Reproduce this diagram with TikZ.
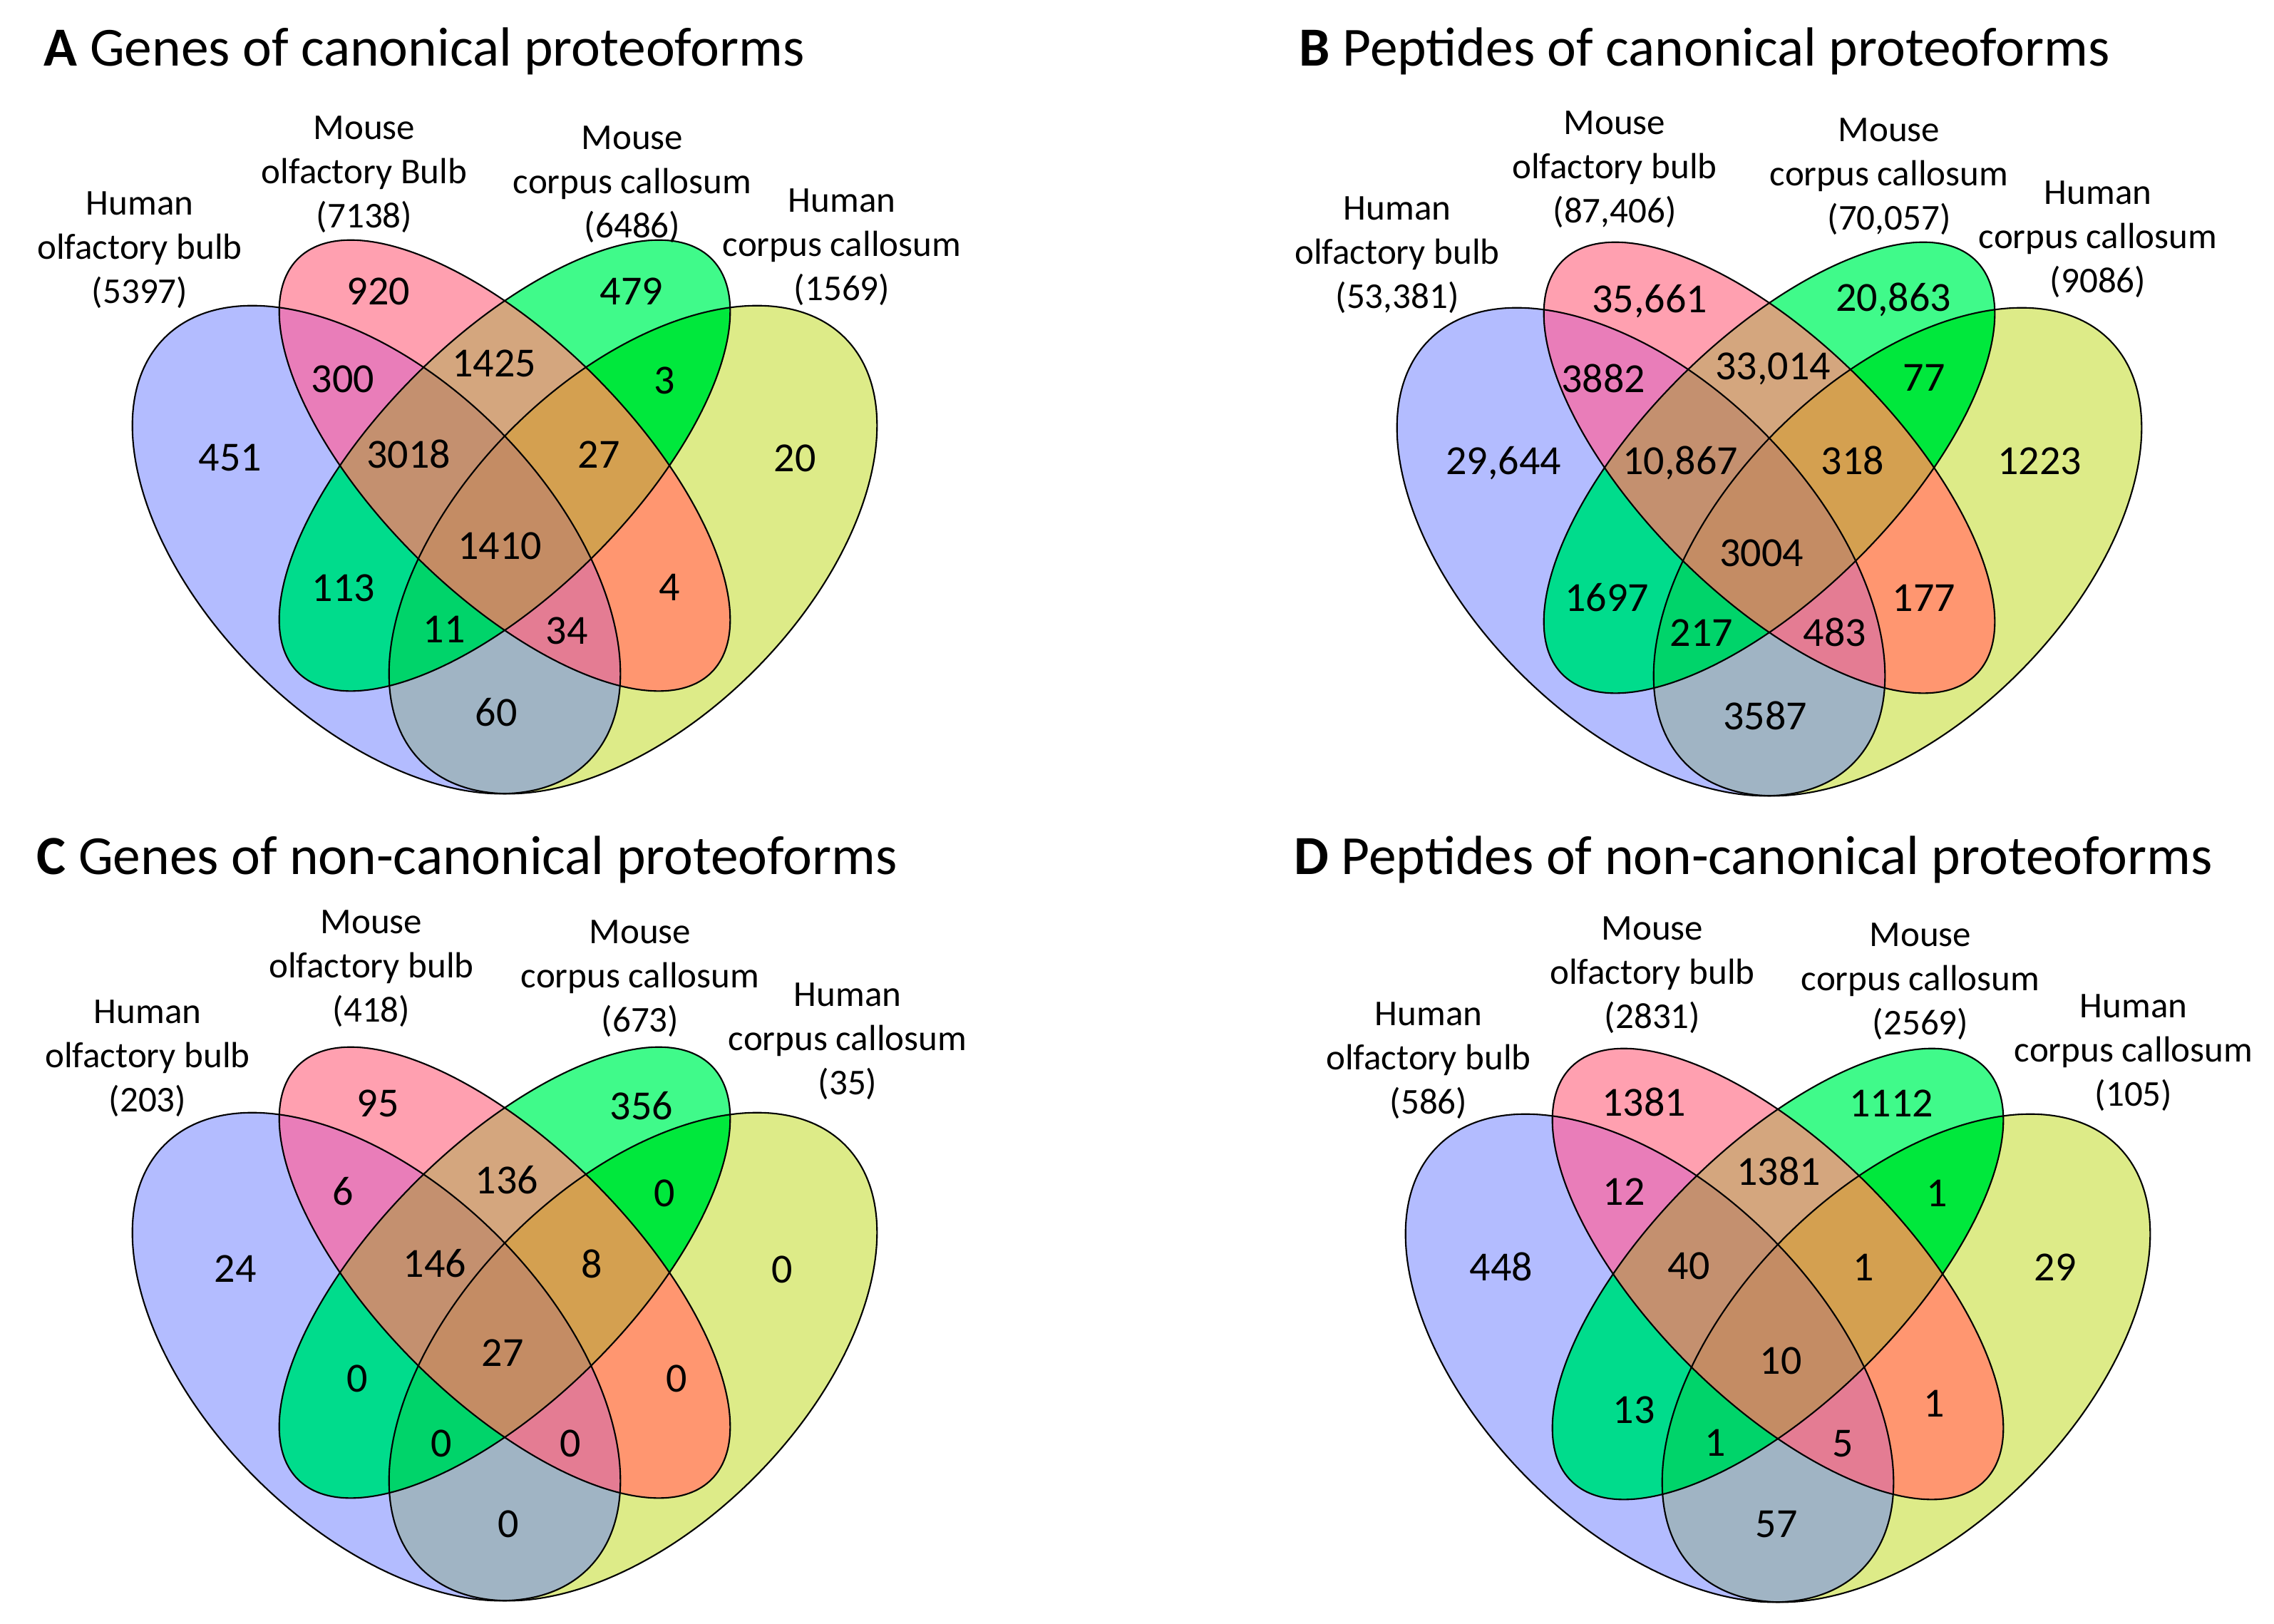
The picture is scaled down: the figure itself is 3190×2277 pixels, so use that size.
\documentclass[tikz,border=0pt]{standalone}
\usepackage{fontspec}
\setmainfont{Carlito}
\definecolor{cB}{RGB}{179,188,255}
\definecolor{cP}{RGB}{255,160,176}
\definecolor{cG}{RGB}{64,250,138}
\definecolor{cY}{RGB}{221,235,136}
\definecolor{cBP}{RGB}{233,125,185}
\definecolor{cBG}{RGB}{0,220,140}
\definecolor{cBY}{RGB}{160,180,196}
\definecolor{cPG}{RGB}{212,166,126}
\definecolor{cPY}{RGB}{255,150,112}
\definecolor{cGY}{RGB}{0,232,60}
\definecolor{cBPG}{RGB}{196,144,111}
\definecolor{cBPY}{RGB}{228,124,147}
\definecolor{cBGY}{RGB}{0,212,106}
\definecolor{cPGY}{RGB}{212,160,80}
\definecolor{cAll}{RGB}{196,140,100}
\newcommand\shapeB{(528,771) ellipse [x radius=4.2cm, y radius=2.4cm]}
\newcommand\shapeP{(708,653) ellipse [x radius=4.1cm, y radius=1.78cm]}
\newcommand\shapeG{(708,653) ellipse [x radius=4.1cm, y radius=1.78cm]}
\newcommand\shapeY{(888,771) ellipse [x radius=4.2cm, y radius=2.4cm]}
\newcommand\vennpanel{%
  \fill[rB,fill=cB] \shapeB;
  \fill[rP,fill=cP] \shapeP;
  \fill[rG,fill=cG] \shapeG;
  \fill[rY,fill=cY] \shapeY;
  \begin{scope}\clip[rB] \shapeB;
    \fill[rP,fill=cBP] \shapeP;
    \fill[rG,fill=cBG] \shapeG;
    \fill[rY,fill=cBY] \shapeY;
  \end{scope}
  \begin{scope}\clip[rP] \shapeP;
    \fill[rG,fill=cPG] \shapeG;
    \fill[rY,fill=cPY] \shapeY;
  \end{scope}
  \begin{scope}\clip[rG] \shapeG;
    \fill[rY,fill=cGY] \shapeY;
  \end{scope}
  \begin{scope}\clip[rB] \shapeB; \clip[rP] \shapeP;
    \fill[rG,fill=cBPG] \shapeG;
    \fill[rY,fill=cBPY] \shapeY;
  \end{scope}
  \begin{scope}\clip[rB] \shapeB; \clip[rG] \shapeG;
    \fill[rY,fill=cBGY] \shapeY;
  \end{scope}
  \begin{scope}\clip[rP] \shapeP; \clip[rG] \shapeG;
    \fill[rY,fill=cPGY] \shapeY;
  \end{scope}
  \begin{scope}\clip[rB] \shapeB; \clip[rP] \shapeP; \clip[rG] \shapeG;
    \fill[rY,fill=cAll] \shapeY;
  \end{scope}
  \draw[rB,outline] \shapeB;
  \draw[rP,outline] \shapeP;
  \draw[rG,outline] \shapeG;
  \draw[rY,outline] \shapeY;
}
\begin{document}
\begin{tikzpicture}[x=0.01cm,y=-0.01cm,
  rB/.style={rotate around={-45:(528,771)}},
  rP/.style={rotate around={-45:(708,653)}},
  rG/.style={rotate around={45:(708,653)}},
  rY/.style={rotate around={45:(888,771)}},
  outline/.style={draw=black,line width=0.6pt},
  lab/.style={align=center,inner sep=0pt,font=\fontsize{14.5}{17.6}\selectfont},
  num/.style={inner sep=0pt,text height=10.4pt,text depth=0pt,font=\fontsize{16.5}{19}\selectfont},
  ttl/.style={anchor=base west,inner sep=0pt,font=\fontsize{22}{26}\selectfont}]
\fill[white] (0,0) rectangle (3190,2277);
\useasboundingbox (0,0) rectangle (3190,2277);
% ---------- panel shapes
\begin{scope}\vennpanel\end{scope}
\begin{scope}[shift={(1774,3)}]\vennpanel\end{scope}
\begin{scope}[shift={(0,1132)}]\vennpanel\end{scope}
\begin{scope}[shift={(1786,1134)}]\vennpanel\end{scope}
% ---------- panel A
\node[ttl] (tA) at (61,92) {\textbf{A} Genes of canonical proteoforms};
\node[lab] (A-l1) at (196,351) {Human\\olfactory bulb\\(5397)};
\node[lab] (A-l2) at (511,245) {Mouse\\olfactory Bulb\\(7138)};
\node[lab] (A-l3) at (887,259) {Mouse\\corpus callosum\\(6486)};
\node[lab] (A-l4) at (1181,347) {Human\\corpus callosum\\(1569)};
\node[num] (A-p) at (531,409) {920};
\node[num] (A-g) at (886,409) {479};
\node[num] (A-bp) at (481,532) {300};
\node[num] (A-pg) at (693,510) {1425};
\node[num] (A-gy) at (932,534) {3};
\node[num] (A-b) at (323,642) {451};
\node[num] (A-bpg) at (573,638) {3018};
\node[num] (A-pgy) at (840,638) {27};
\node[num] (A-y) at (1115,643) {20};
\node[num] (A-all) at (701,766) {1410};
\node[num] (A-bg) at (482,825) {113};
\node[num] (A-py) at (939,824) {4};
\node[num] (A-bgy) at (623,883) {11};
\node[num] (A-bpy) at (795,885) {34};
\node[num] (A-by) at (696,1000) {60};
% ---------- panel B
\node[ttl] (tB) at (1822,92) {\textbf{B} Peptides of canonical proteoforms};
\node[lab] (B-l1) at (1960,358) {Human\\olfactory bulb\\(53,381)};
\node[lab] (B-l2) at (2265,238) {Mouse\\olfactory bulb\\(87,406)};
\node[lab] (B-l3) at (2650,248) {Mouse\\corpus callosum\\(70,057)};
\node[lab] (B-l4) at (2943,336) {Human\\corpus callosum\\(9086)};
\node[num] (B-p) at (2314,420) {35,661};
\node[num] (B-g) at (2656,418) {20,863};
\node[num] (B-bp) at (2249,532) {3882};
\node[num] (B-pg) at (2487,514) {33,014};
\node[num] (B-gy) at (2699,530) {77};
\node[num] (B-b) at (2109,647) {29,644};
\node[num] (B-bpg) at (2357,647) {10,867};
\node[num] (B-pgy) at (2599,647) {318};
\node[num] (B-y) at (2861,647) {1223};
\node[num] (B-all) at (2471,776) {3004};
\node[num] (B-bg) at (2254,839) {1697};
\node[num] (B-py) at (2699,839) {177};
\node[num] (B-bgy) at (2387,888) {217};
\node[num] (B-bpy) at (2574,888) {483};
\node[num] (B-by) at (2476,1005) {3587};
% ---------- panel C
\node[ttl] (tC) at (51,1226) {\textbf{C} Genes of non-canonical proteoforms};
\node[lab] (C-l1) at (207,1485) {Human\\olfactory bulb\\(203)};
\node[lab] (C-l2) at (521,1359) {Mouse\\olfactory bulb\\(418)};
\node[lab] (C-l3) at (898,1373) {Mouse\\corpus callosum\\(673)};
\node[lab] (C-l4) at (1189,1461) {Human\\corpus callosum\\(35)};
\node[num] (C-p) at (530,1548) {95};
\node[num] (C-g) at (900,1552) {356};
\node[num] (C-bp) at (481,1672) {6};
\node[num] (C-pg) at (711,1656) {136};
\node[num] (C-gy) at (932,1674) {0};
\node[num] (C-b) at (330,1780) {24};
\node[num] (C-bpg) at (610,1773) {146};
\node[num] (C-pgy) at (830,1774) {8};
\node[num] (C-y) at (1097,1781) {0};
\node[num] (C-all) at (705,1898) {27};
\node[num] (C-bg) at (501,1934) {0};
\node[num] (C-py) at (949,1934) {0};
\node[num] (C-bgy) at (619,2025) {0};
\node[num] (C-bpy) at (800,2025) {0};
\node[num] (C-by) at (713,2138) {0};
% ---------- panel D
\node[ttl] (tD) at (1815,1226) {\textbf{D} Peptides of non-canonical proteoforms};
\node[lab] (D-l1) at (2004,1488) {Human\\olfactory bulb\\(586)};
\node[lab] (D-l2) at (2318,1368) {Mouse\\olfactory bulb\\(2831)};
\node[lab] (D-l3) at (2694,1377) {Mouse\\corpus callosum\\(2569)};
\node[lab] (D-l4) at (2993,1477) {Human\\corpus callosum\\(105)};
\node[num] (D-p) at (2306,1547) {1381};
\node[num] (D-g) at (2653,1548) {1112};
\node[num] (D-bp) at (2278,1672) {12};
\node[num] (D-pg) at (2495,1644) {1381};
\node[num] (D-gy) at (2717,1674) {1};
\node[num] (D-b) at (2106,1778) {448};
\node[num] (D-bpg) at (2369,1776) {40};
\node[num] (D-pgy) at (2614,1778) {1};
\node[num] (D-y) at (2883,1778) {29};
\node[num] (D-all) at (2498,1909) {10};
\node[num] (D-bg) at (2292,1978) {13};
\node[num] (D-py) at (2713,1969) {1};
\node[num] (D-bgy) at (2406,2024) {1};
\node[num] (D-bpy) at (2585,2025) {5};
\node[num] (D-by) at (2492,2138) {57};
\end{tikzpicture}
\end{document}
